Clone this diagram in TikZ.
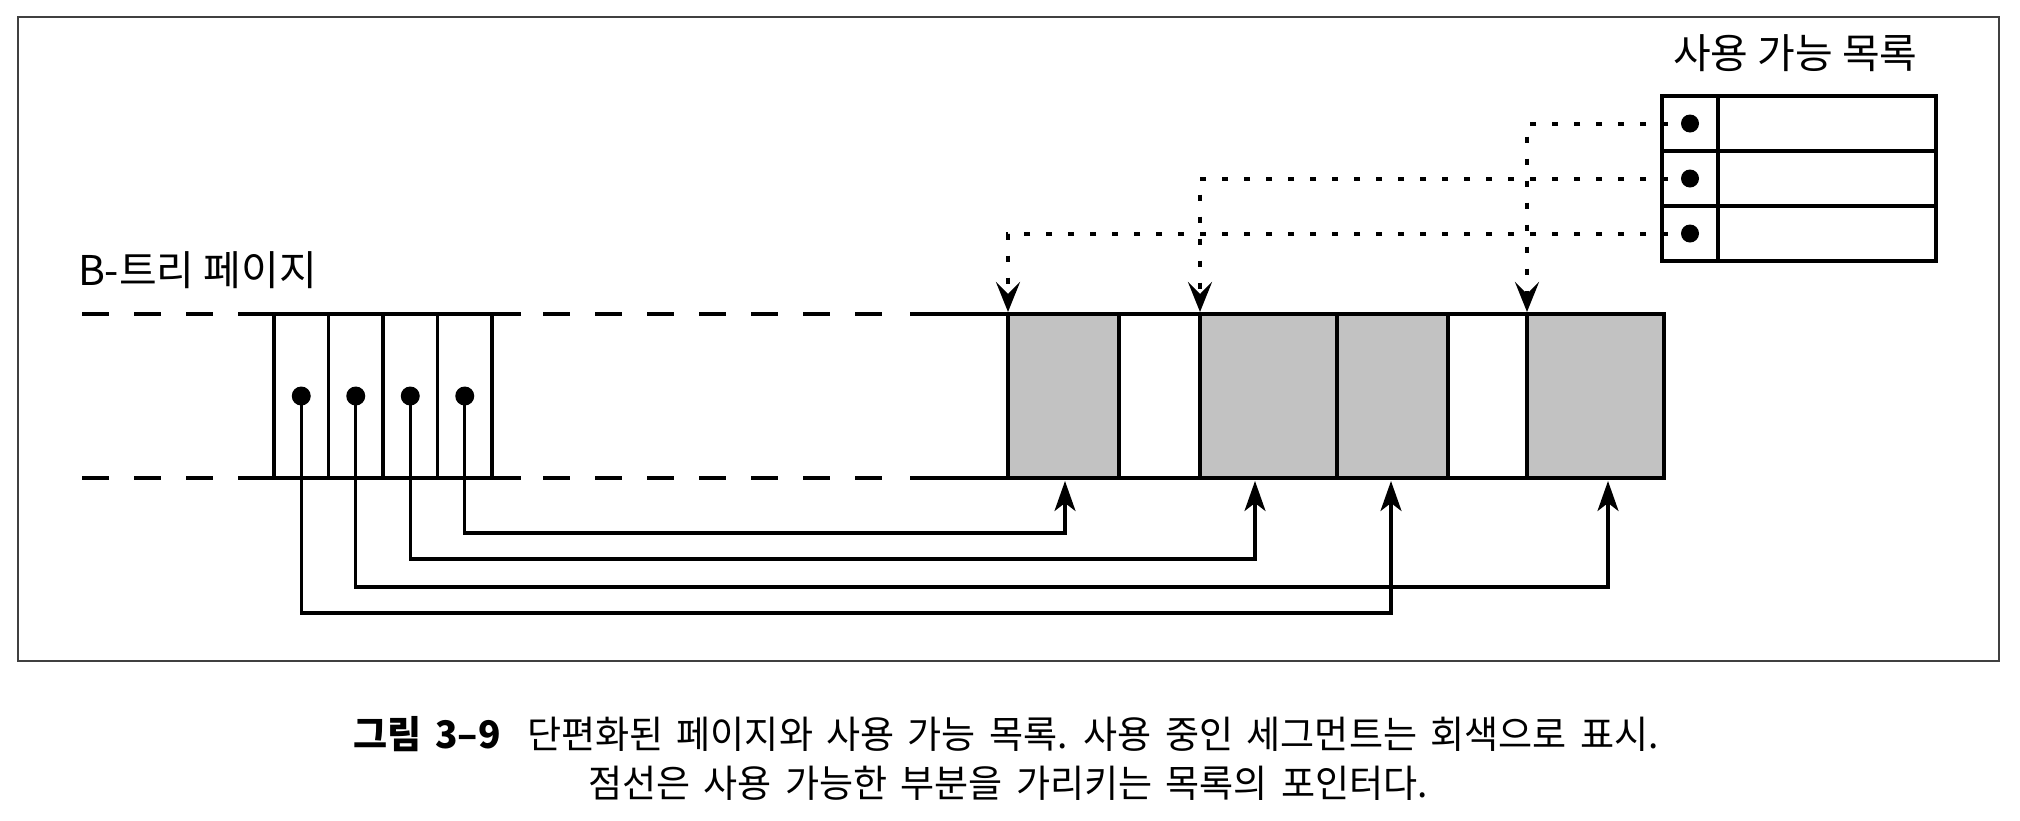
\documentclass[tikz,border=0pt]{standalone}
\usepackage{fontspec}
\newfontfamily\kr[WordSpace=1.8]{Noto Sans CJK KR}
\newfontfamily\krn[WordSpace=1.0]{Noto Sans CJK KR}
\newfontfamily\capf[FakeStretch=0.975,WordSpace=1.6]{Noto Sans CJK KR}
\usetikzlibrary{arrows.meta}
\begin{document}
\begin{tikzpicture}[x=0.5pt,y=-0.5pt,
  every node/.style={outer sep=0pt},
  frame/.style={draw=black!75, line width=1pt},
  pline/.style={line width=2.3pt},
  pdash/.style={pline, dash pattern=on 13.5pt off 12.5pt},
  cell/.style={draw, line width=1.8pt, inner sep=0pt, minimum height=82pt, minimum width=27.25pt, anchor=north west},
  seg/.style={draw, line width=2.3pt, inner sep=0pt, minimum height=82pt, anchor=north west},
  used/.style={seg, fill=black!24},
  free/.style={seg, fill=white},
  flcell/.style={draw, line width=2pt, inner sep=0pt, minimum height=27.5pt, anchor=north west},
  dot/.style={circle, fill=black, inner sep=0pt, minimum size=9.5pt},
  fdot/.style={circle, fill=black, inner sep=0pt, minimum size=9pt},
  conn/.style={line width=1.6pt, -{Stealth[length=15pt,width=10.5pt,inset=4pt]}},
  dotc/.style={line width=2pt, dash pattern=on 3pt off 8pt, shorten >=1pt, -{Stealth[length=15pt,width=12pt,inset=6pt]}},
  lab/.style={font=\kr\fontsize{20.5pt}{24pt}\selectfont, inner sep=0pt, anchor=base west},
  labn/.style={font=\krn\fontsize{20.5pt}{24pt}\selectfont, inner sep=0pt, anchor=base west},
  capt/.style={font=\capf\fontsize{19pt}{22pt}\selectfont, inner sep=0pt, anchor=base}
]
\useasboundingbox (0,0) rectangle (2020,820);
\draw[frame] (18,17) rectangle (1999,661);

% small B-tree page cells
\node[cell] (c1) at (274,314) {};
\node[cell] (c2) at (328.5,314) {};
\node[cell] (c3) at (383,314) {};
\node[cell] (c4) at (437.5,314) {};

% segments of the big page
\node[used] (s1) at (1008,314) [minimum width=55.5pt] {};
\node[free] (s2) at (1119,314) [minimum width=40.5pt] {};
\node[used] (s3) at (1200,314) [minimum width=68.5pt] {};
\node[used] (s4) at (1337,314) [minimum width=55.5pt] {};
\node[free] (s5) at (1448,314) [minimum width=39.5pt] {};
\node[used] (s6) at (1527,314) [minimum width=68.5pt] {};

% page lines
\draw[pdash] (82,314) -- (240,314);
\draw[pline] (240,314) -- (521,314);
\draw[pdash] (543,314) -- (884,314);
\draw[pline] (910,314) -- (s1.north west);
\draw[pdash] (82,478) -- (240,478);
\draw[pline] (240,478) -- (521,478);
\draw[pdash] (543,478) -- (884,478);
\draw[pline] (910,478) -- (s1.south west);

% pointers
\node[dot] (d1) at (c1.center) {};
\node[dot] (d2) at (c2.center) {};
\node[dot] (d3) at (c3.center) {};
\node[dot] (d4) at (c4.center) {};

\coordinate (t1) at (1065,481);
\coordinate (t3) at (1255,481);
\coordinate (t4) at (1391,481);
\coordinate (t6) at (1608,481);

\draw[conn] (d4.center) -- ++(0,137) -| (t1);
\draw[conn] (d3.center) -- ++(0,163) -| (t3);
\draw[conn] (d2.center) -- ++(0,191) -| (t6);
\draw[conn] (d1.center) -- ++(0,217) -| (t4);

% free list
\node[flcell, minimum width=28pt] (f1a) at (1662,96) {};
\node[flcell, minimum width=109pt] (f1b) at (1718,96) {};
\node[flcell, minimum width=28pt] (f2a) at (1662,151) {};
\node[flcell, minimum width=109pt] (f2b) at (1718,151) {};
\node[flcell, minimum width=28pt] (f3a) at (1662,206) {};
\node[flcell, minimum width=109pt] (f3b) at (1718,206) {};
\node[fdot] (fd1) at (f1a.center) {};
\node[fdot] (fd2) at (f2a.center) {};
\node[fdot] (fd3) at (f3a.center) {};

\draw[dotc] (fd1.center) -| (s6.north west);
\draw[dotc] (fd2.center) -| (s3.north west);
\draw[dotc] (fd3.center) -| (s1.north west);

% labels
\node[lab] (lb) at (78,285) {B-트리 페이지};
\node[labn] (lf) at (1673,68) {사용 가능 목록};

% caption
\node[capt] (cap1) at (1006,748) {{\bfseries 그림 3–9}\ \ 단편화된 페이지와 사용 가능 목록. 사용 중인 세그먼트는 회색으로 표시.};
\node[capt] (cap2) at (1008,797) {점선은 사용 가능한 부분을 가리키는 목록의 포인터다.};
\end{tikzpicture}
\end{document}
